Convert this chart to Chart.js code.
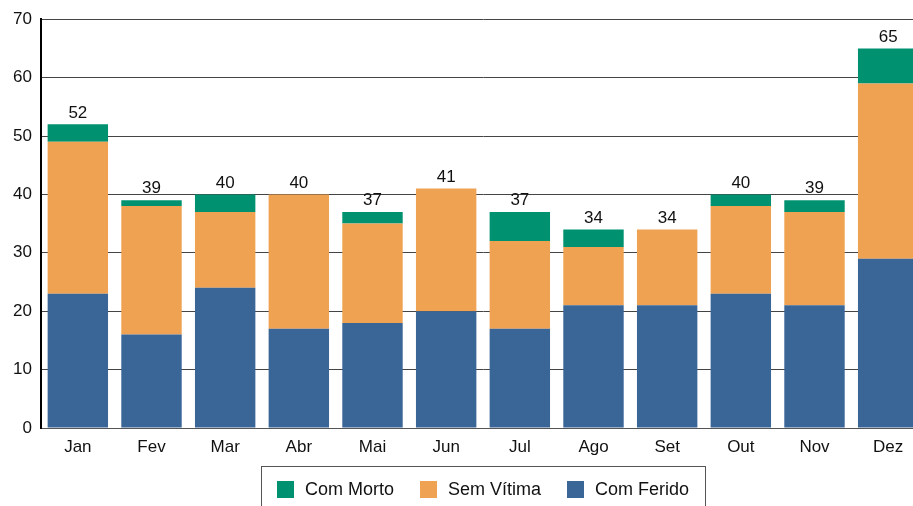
<!DOCTYPE html>
<html>
<head>
<meta charset="UTF-8">
<script src="https://cdn.jsdelivr.net/npm/chart.js@4"></script>
<style>
  html, body { margin: 0; padding: 0; background: #fff; overflow: hidden; }
  #wrap { width: 925px; height: 506px; }
</style>
</head>
<body>
<div id="wrap"><canvas id="grafico"></canvas></div>
<script>
// Dados do gráfico
const meses = ['Jan', 'Fev', 'Mar', 'Abr', 'Mai', 'Jun', 'Jul', 'Ago', 'Set', 'Out', 'Nov', 'Dez'];
const comFerido = [23, 16, 24, 17, 18, 20, 17, 21, 21, 23, 21, 29];
const semVitima = [26, 22, 13, 23, 17, 21, 15, 10, 13, 15, 16, 30];
const comMorto = [3, 1, 3, 0, 2, 0, 5, 3, 0, 2, 2, 6];
const totais = [52, 39, 40, 40, 37, 41, 37, 34, 34, 40, 39, 65];

const fonte = { family: 'Liberation Sans, Arial, sans-serif', size: 17 };
const fonteCss = '17px Liberation Sans, Arial, sans-serif';
const fonteLegenda = '18px Liberation Sans, Arial, sans-serif';

// Totais acima das barras
const totaisPlugin = {
  id: 'totais',
  afterDatasetsDraw(chart) {
    const { ctx } = chart;
    const y = chart.scales.y;
    const x = chart.scales.x;
    ctx.save();
    ctx.font = fonteCss;
    ctx.fillStyle = '#111';
    ctx.textAlign = 'center';
    ctx.textBaseline = 'bottom';
    totais.forEach((t, i) => {
      ctx.fillText(t, x.getPixelForValue(i), y.getPixelForValue(t) - 3);
    });
    ctx.restore();
  }
};

// Legenda desenhada à mão, com moldura
const legendaPlugin = {
  id: 'legenda',
  afterDraw(chart) {
    const { ctx } = chart;
    const itens = chart.data.datasets.slice().reverse();
    ctx.save();
    ctx.font = fonteLegenda;
    const larguras = itens.map(d => 17 + 11 + ctx.measureText(d.label).width);
    const total = larguras.reduce((a, b) => a + b, 0) + 26 * (itens.length - 1);
    const centro = 483;
    const yMeio = 489;
    let x = centro - total / 2;
    const left = Math.round(x - 16) + 0.5;
    const right = Math.round(x + total + 16) + 0.5;
    ctx.strokeStyle = '#555';
    ctx.lineWidth = 1;
    ctx.strokeRect(left, 466.5, right - left, 60);
    ctx.textBaseline = 'middle';
    ctx.textAlign = 'left';
    itens.forEach((d, i) => {
      ctx.fillStyle = d.backgroundColor;
      ctx.fillRect(Math.round(x), yMeio - 8, 17, 17);
      ctx.fillStyle = '#111';
      ctx.fillText(d.label, x + 28, yMeio + 1);
      x += larguras[i] + 26;
    });
    ctx.restore();
  }
};

new Chart(document.getElementById('grafico'), {
  type: 'bar',
  data: {
    labels: meses,
    datasets: [
      { label: 'Com Ferido', data: comFerido, backgroundColor: '#3A6597' },
      { label: 'Sem Vítima', data: semVitima, backgroundColor: '#EEA252' },
      { label: 'Com Morto', data: comMorto, backgroundColor: '#009270' }
    ]
  },
  options: {
    responsive: true,
    maintainAspectRatio: false,
    animation: false,
    layout: { padding: { top: 18, left: 0, right: 0, bottom: 38 } },
    datasets: { bar: { barPercentage: 0.82, categoryPercentage: 1 } },
    plugins: {
      tooltip: { enabled: false },
      legend: { display: false }
    },
    scales: {
      x: {
        stacked: true,
        grid: { display: false, drawTicks: false },
        border: { color: '#555', width: 1 },
        ticks: { font: fonte, color: '#111', padding: 9 },
        afterFit(scale) { scale.height = 40; }
      },
      y: {
        stacked: true,
        min: 0,
        max: 70,
        ticks: { stepSize: 10, font: fonte, color: '#111', padding: 9 },
        grid: { color: '#444', drawTicks: false },
        border: { color: '#000', width: 2 },
        afterFit(scale) { scale.width = 41; }
      }
    }
  },
  plugins: [totaisPlugin, legendaPlugin]
});
</script>
</body>
</html>
